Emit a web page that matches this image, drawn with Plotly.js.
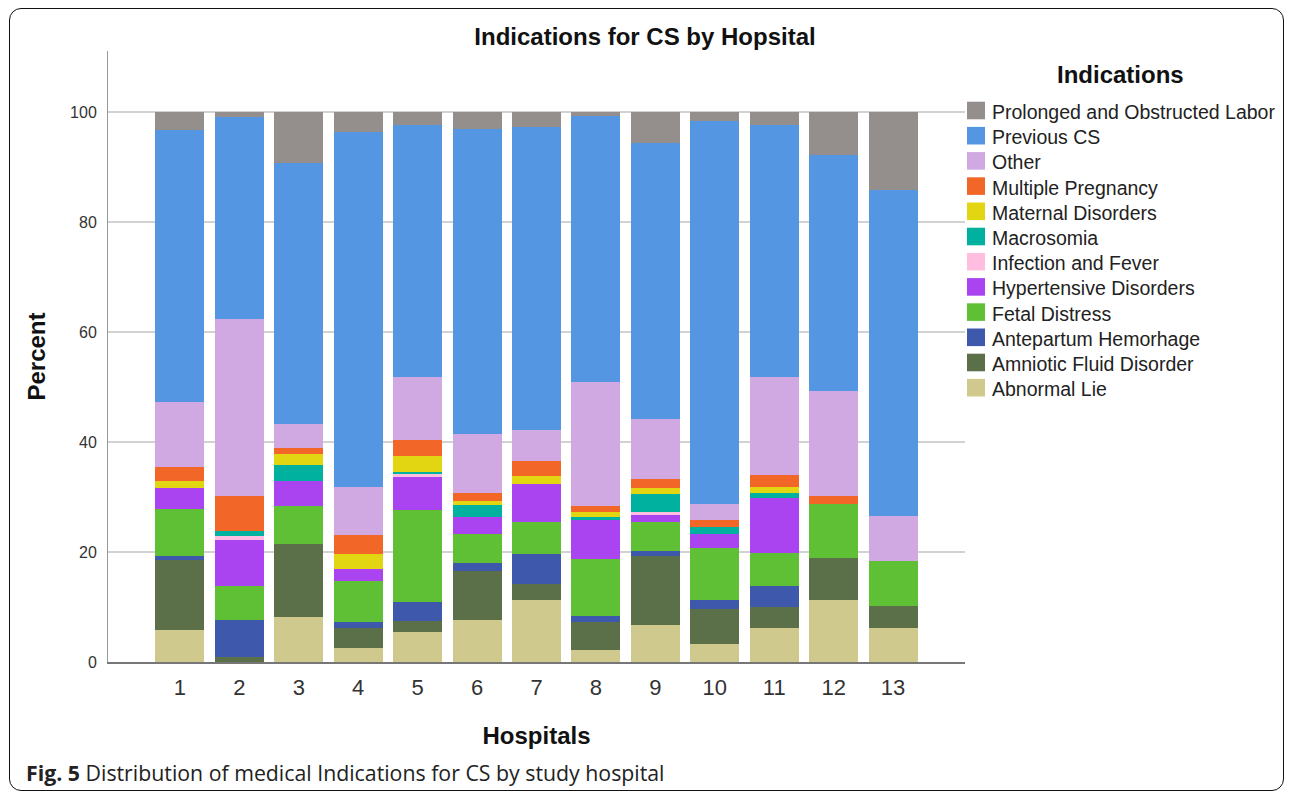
<!DOCTYPE html>
<html>
<head>
<meta charset="utf-8">
<script src="https://cdn.plot.ly/plotly-3.0.1.min.js"></script>
<style>
  html, body { margin: 0; padding: 0; background: #fff; }
  #wrap { position: relative; width: 1290px; height: 793px; }
  #chart { position: absolute; left: 0; top: 0; width: 1290px; height: 793px; }
  #frame { position: absolute; left: 9px; top: 8px; width: 1273px; height: 781px;
           border: 1.6px solid #111; border-radius: 12px; pointer-events: none; }
</style>
</head>
<body>
<div id="wrap">
  <div id="chart"></div>
  <div id="frame"></div>
</div>
<script>
// Hospitals (x categories)
const hospitals = [1, 2, 3, 4, 5, 6, 7, 8, 9, 10, 11, 12, 13];
const tickLabels = ["1","2","3","4","5","6","7","8","9","10","11","12","13"];
const yTicks = [0, 20, 40, 60, 80, 100];

// Percent of CS indications per hospital (stack order bottom -> top)
const abnormalLie        = [5.9, 0.0, 8.1, 2.6, 5.4, 7.6, 11.3, 2.1, 6.8, 3.2, 6.1, 11.2, 6.2];
const amnioticFluid      = [12.6, 0.85, 13.3, 3.5, 2.1, 8.9, 2.8, 5.1, 12.5, 6.4, 3.9, 7.8, 3.9];
const antepartumHemorhage= [0.8, 6.75, 0.0, 1.2, 3.4, 1.5, 5.6, 1.2, 0.9, 1.6, 3.8, 0.0, 0.0];
const fetalDistress      = [8.5, 6.3, 7.0, 7.4, 16.7, 5.3, 5.7, 10.3, 5.3, 9.5, 6.0, 9.7, 8.3];
const hypertensive       = [3.8, 8.3, 4.6, 2.3, 6.1, 3.1, 7.0, 7.2, 1.3, 2.6, 10.1, 0.0, 0.0];
const infectionFever     = [0.0, 0.8, 0.0, 0.0, 0.5, 0.0, 0.0, 0.0, 0.4, 0.0, 0.0, 0.0, 0.0];
const macrosomia         = [0.0, 0.9, 2.8, 0.0, 0.4, 2.1, 0.0, 0.5, 3.4, 1.2, 0.8, 0.0, 0.0];
const maternalDisorders  = [1.3, 0.0, 2.0, 2.6, 2.9, 0.8, 1.5, 0.8, 1.1, 0.0, 1.1, 0.0, 0.0];
const multiplePregnancy  = [2.5, 6.2, 1.2, 3.5, 2.9, 1.5, 2.6, 1.2, 1.6, 1.4, 2.2, 1.5, 0.0];
const other              = [11.8, 32.3, 4.3, 8.7, 11.4, 10.6, 5.7, 22.6, 10.9, 2.8, 17.9, 19.1, 8.2];
const previousCS         = [49.5, 36.7, 47.4, 64.5, 45.9, 55.5, 55.0, 48.3, 50.2, 69.7, 45.7, 42.8, 59.2];
const prolongedLabor     = [3.3, 0.9, 9.3, 3.7, 2.3, 3.1, 2.8, 0.7, 5.6, 1.6, 2.4, 7.9, 14.2];

const seriesNames = [
  "Abnormal Lie", "Amniotic Fluid Disorder", "Antepartum Hemorhage", "Fetal Distress",
  "Hypertensive Disorders", "Infection and Fever", "Macrosomia", "Maternal Disorders",
  "Multiple Pregnancy", "Other", "Previous CS", "Prolonged and Obstructed Labor"
];
const seriesValues = [
  abnormalLie, amnioticFluid, antepartumHemorhage, fetalDistress, hypertensive,
  infectionFever, macrosomia, maternalDisorders, multiplePregnancy, other,
  previousCS, prolongedLabor
];
const seriesColors = [
  "#D0C98E", "#5B7048", "#3E58AB", "#5FC035", "#A944F0", "#FFBDDF",
  "#00B1A0", "#E2D612", "#F26628", "#D0A9E2", "#5596E3", "#948E8C"
];

const traces = seriesNames.map((name, i) => ({
  type: "bar",
  name: name,
  x: hospitals,
  y: seriesValues[i],
  marker: { color: seriesColors[i], line: { width: 0 } },
  hoverinfo: "name+y"
}));

// layout geometry (pixels)
const FW = 1290, FH = 793;
const L = 108, R = 325, T = 51, B = 131;
const PW = FW - L - R, PH = FH - T - B;
const px = v => (v - L) / PW;          // pixel x -> paper x
const py = v => (FH - B - v) / PH;     // pixel y -> paper y

const FONT = "Liberation Sans, Arial, sans-serif";

// legend drawn as shapes + annotations, top entry = last series
const shapes = [];
const annotations = [];
annotations.push({
  text: "<b>Indications</b>", xref: "paper", yref: "paper",
  x: px(1120), y: py(74.5), xanchor: "center", yanchor: "middle", showarrow: false,
  font: { family: FONT, size: 24, color: "#111" }
});
const legendIdx = seriesNames.map((n, i) => i).reverse();
legendIdx.forEach((si, k) => {
  const cy = 110.5 + k * 25.2;
  shapes.push({
    type: "rect", xref: "paper", yref: "paper", layer: "above",
    x0: px(967), x1: px(985), y0: py(cy + 8.8), y1: py(cy - 8.8),
    fillcolor: seriesColors[si], line: { width: 0 }
  });
  annotations.push({
    text: seriesNames[si], xref: "paper", yref: "paper",
    x: px(990), y: py(cy + 1.5), xanchor: "left", yanchor: "middle", showarrow: false,
    font: { family: FONT, size: 19.5, color: "#222" }
  });
});

annotations.push({
  text: "<b>Fig. 5</b> Distribution of medical Indications for CS by study hospital",
  xref: "paper", yref: "paper",
  x: px(24), xanchor: "left",
  y: py(772), yanchor: "middle",
  showarrow: false,
  font: { family: "Open Sans, Noto Sans, sans-serif", size: 21.3, color: "#222" }
});

const layout = {
  width: FW, height: FH,
  paper_bgcolor: "#fff", plot_bgcolor: "#fff",
  margin: { l: L, r: R, t: T, b: B, pad: 0 },
  barmode: "stack",
  bargap: 0.175,
  showlegend: false,
  font: { family: FONT, color: "#222" },
  title: {
    text: "<b>Indications for CS by Hopsital</b>",
    font: { family: FONT, size: 24, color: "#111" },
    x: 0.5, xref: "container", xanchor: "center",
    y: 1 - 37 / FH, yref: "container", yanchor: "middle"
  },
  xaxis: {
    type: "linear",
    range: [-0.21, 14.21],
    tickmode: "array", tickvals: hospitals, ticktext: tickLabels,
    ticks: "", ticklabelstandoff: 5,
    tickfont: { family: FONT, size: 22, color: "#333" },
    showgrid: false, zeroline: false,
    showline: true, linecolor: "#777", linewidth: 2,
    title: { text: "<b>Hospitals</b>", font: { family: FONT, size: 24, color: "#111" }, standoff: 28 },
    fixedrange: true
  },
  yaxis: {
    range: [0, 111.1],
    tickmode: "array", tickvals: yTicks,
    ticks: "", ticklabelstandoff: 7,
    tickfont: { family: FONT, size: 16, color: "#333" },
    showgrid: true, gridcolor: "#d2d2d2", gridwidth: 2,
    zeroline: false,
    showline: true, linecolor: "#999", linewidth: 1,
    title: { text: "<b>Percent</b>", font: { family: FONT, size: 24, color: "#111" }, standoff: 17 },
    fixedrange: true
  },
  shapes: shapes,
  annotations: annotations
};

Plotly.newPlot("chart", traces, layout, { displayModeBar: false });
</script>
</body>
</html>
